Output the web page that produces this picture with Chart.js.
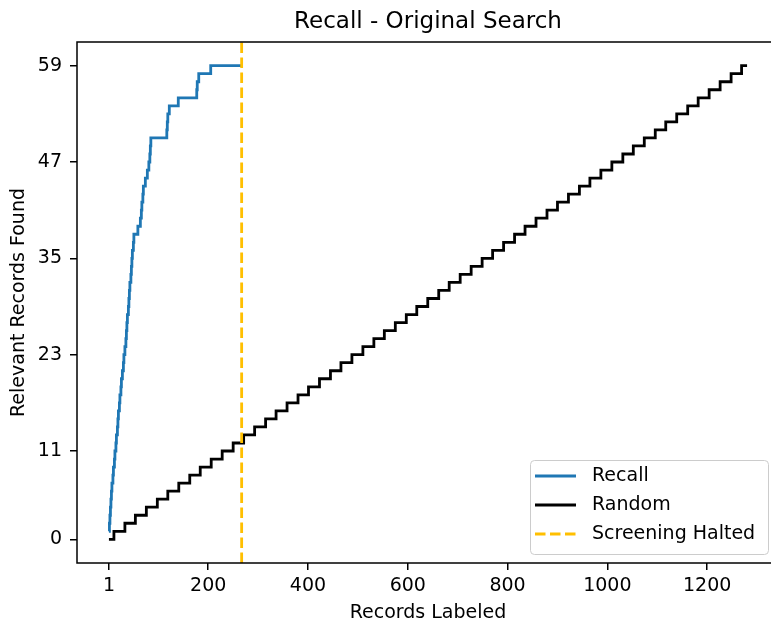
<!DOCTYPE html>
<html>
<head>
<meta charset="utf-8">
<title>Recall - Original Search</title>
<script src="https://cdn.jsdelivr.net/npm/chart.js@4.4.1/dist/chart.umd.min.js"></script>
<style>
  html, body { margin: 0; padding: 0; background: #fff; overflow: hidden; }
  #wrap { width: 800px; height: 624px; }
</style>
</head>
<body>
<div id="wrap"><canvas id="chart" width="800" height="624"></canvas></div>
<script>
// record number at which each relevant record was found (recall curve)
const recallX = [1, 2, 3, 4, 5, 6, 7, 9, 10, 12, 13, 15, 16, 18, 19, 20, 22, 23, 25, 26,
  28, 30, 31, 33, 35, 36, 37, 38, 40, 41, 42, 43, 45, 46, 47, 48, 50, 51, 59, 64,
  66, 67, 69, 70, 74, 78, 81, 83, 84, 85, 117, 118, 119, 122, 140, 177, 178, 181, 205, 267];
const recallY = [1, 2, 3, 4, 5, 6, 7, 8, 9, 10, 11, 12, 13, 14, 15, 16, 17, 18, 19, 20,
  21, 22, 23, 24, 25, 26, 27, 28, 29, 30, 31, 32, 33, 34, 35, 36, 37, 38, 39, 40,
  41, 42, 43, 44, 45, 46, 47, 48, 49, 50, 51, 52, 53, 54, 55, 56, 57, 58, 59, 59];

// random baseline steps
const randomX = [1, 11, 33, 54, 76, 98, 119, 141, 163, 184, 206, 228, 250, 271, 293, 315, 336, 358, 380, 401,
  423, 445, 466, 488, 510, 532, 553, 575, 597, 618, 640, 662, 683, 705, 727, 749, 770, 792, 814, 835,
  857, 879, 900, 922, 944, 965, 987, 1009, 1031, 1052, 1074, 1096, 1117, 1139, 1161, 1182, 1204, 1226, 1248, 1269, 1280];
const randomY = [0, 1, 2, 3, 4, 5, 6, 7, 8, 9, 10, 11, 12, 13, 14, 15, 16, 17, 18, 19,
  20, 21, 22, 23, 24, 25, 26, 27, 28, 29, 30, 31, 32, 33, 34, 35, 36, 37, 38, 39,
  40, 41, 42, 43, 44, 45, 46, 47, 48, 49, 50, 51, 52, 53, 54, 55, 56, 57, 58, 59, 59];

const haltRecord = 267;

const xTicks = [1, 200, 400, 600, 800, 1000, 1200];
const yTicks = [0, 11, 23, 35, 47, 59];

const chartTitle = "Recall - Original Search";

const X_MIN = -63, X_MAX = 1344;
const Y_MIN = -2.95, Y_MAX = 61.95;

const FONT = "DejaVu Sans";
const BLUE = "#1f77b4";
const ORANGE = "#ffbf00";

function toPoints(xs, ys) {
  return xs.map((x, i) => ({ x: x, y: ys[i] }));
}

// matplotlib-like frame (spines) and title centred over the axes
const framePlugin = {
  id: "frame",
  afterDatasetsDraw(chart) {
    const a = chart.chartArea;
    const ctx = chart.ctx;
    ctx.save();
    ctx.strokeStyle = "#000";
    ctx.lineWidth = 1.5;
    ctx.strokeRect(a.left, a.top, a.right - a.left, a.bottom - a.top);
    ctx.font = "23px " + FONT;
    ctx.fillStyle = "#000";
    ctx.textAlign = "center";
    ctx.textBaseline = "alphabetic";
    ctx.fillText(chartTitle, (a.left + a.right) / 2, 28);
    ctx.restore();
  },
};

// legend box in lower right corner of the axes
const legendItems = [
  { label: "Recall", color: BLUE, dash: [] },
  { label: "Random", color: "#000", dash: [] },
  { label: "Screening Halted", color: ORANGE, dash: [10.5, 4.5] },
];
const boxLegend = {
  id: "boxLegend",
  afterDraw(chart) {
    const ctx = chart.ctx;
    const a = chart.chartArea;
    const w = 238, h = 94;
    const x0 = a.right - 11 - w, y0 = a.bottom - 9 - h;
    ctx.save();
    ctx.fillStyle = "rgba(255,255,255,0.8)";
    ctx.strokeStyle = "#cccccc";
    ctx.lineWidth = 1;
    ctx.beginPath();
    ctx.roundRect(x0 + 0.5, y0 + 0.5, w, h, 4);
    ctx.fill();
    ctx.stroke();
    ctx.font = "19px " + FONT;
    ctx.textBaseline = "middle";
    ctx.fillStyle = "#000";
    legendItems.forEach((it, i) => {
      const cy = y0 + 16 + i * 29;
      ctx.strokeStyle = it.color;
      ctx.lineWidth = 2.8;
      ctx.setLineDash(it.dash);
      ctx.beginPath();
      ctx.moveTo(x0 + 5, cy);
      ctx.lineTo(x0 + 46, cy);
      ctx.stroke();
      ctx.setLineDash([]);
      ctx.fillText(it.label, x0 + 62, cy);
    });
    ctx.restore();
  },
};

new Chart(document.getElementById("chart").getContext("2d"), {
  type: "line",
  data: {
    datasets: [
      {
        label: "Screening Halted",
        data: toPoints([haltRecord, haltRecord], [Y_MIN, Y_MAX]),
        borderColor: ORANGE,
        borderWidth: 2.8,
        borderDash: [10.5, 4.5],
        pointRadius: 0,
        order: 0,
      },
      {
        label: "Random",
        data: toPoints(randomX, randomY),
        borderColor: "#000",
        borderWidth: 2.8,
        stepped: true,
        pointRadius: 0,
        order: 1,
      },
      {
        label: "Recall",
        data: toPoints(recallX, recallY),
        borderColor: BLUE,
        borderWidth: 2.8,
        stepped: true,
        pointRadius: 0,
        order: 2,
      },
    ],
  },
  options: {
    responsive: false,
    animation: false,
    events: [],
    layout: { padding: { left: 0, right: 21, top: 42, bottom: 0 } },
    plugins: {
      legend: { display: false },
      tooltip: { enabled: false },
      title: { display: false },
    },
    scales: {
      x: {
        type: "linear",
        min: X_MIN,
        max: X_MAX,
        afterBuildTicks: (s) => { s.ticks = xTicks.map((v) => ({ value: v })); },
        afterFit: (s) => { s.height = 61; },
        grid: { drawOnChartArea: false, drawTicks: true, tickLength: 7, color: "#000", lineWidth: 1.5 },
        border: { display: false },
        ticks: {
          color: "#000",
          padding: 5,
          maxRotation: 0,
          font: { family: FONT, size: 19 },
          callback: (v) => String(v),
        },
        title: {
          display: true,
          text: "Records Labeled",
          color: "#000",
          font: { family: FONT, size: 19 },
          padding: { top: 0, bottom: 0 },
        },
      },
      y: {
        type: "linear",
        min: Y_MIN,
        max: Y_MAX,
        afterBuildTicks: (s) => { s.ticks = yTicks.map((v) => ({ value: v })); },
        afterFit: (s) => { s.width = 77; },
        grid: { drawOnChartArea: false, drawTicks: true, tickLength: 7, color: "#000", lineWidth: 1.5 },
        border: { display: false },
        ticks: { color: "#000", padding: 8, font: { family: FONT, size: 19 }, callback: (v) => String(v) },
        title: {
          display: true,
          text: "Relevant Records Found",
          color: "#000",
          font: { family: FONT, size: 19 },
          padding: { top: 8, bottom: 0 },
        },
      },
    },
  },
  plugins: [framePlugin, boxLegend],
});
</script>
</body>
</html>
